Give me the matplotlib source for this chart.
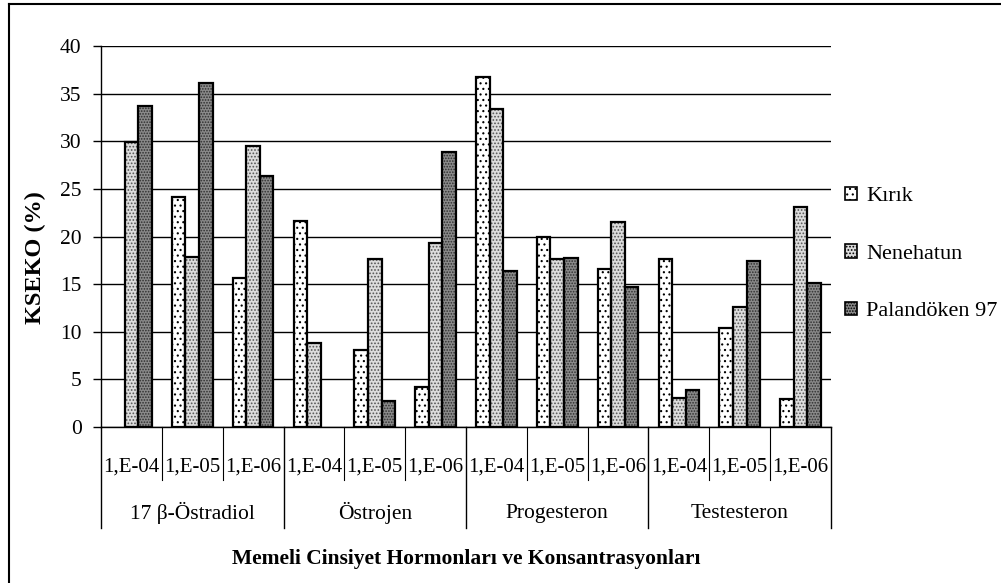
import matplotlib.pyplot as plt
import numpy as np
from matplotlib.lines import Line2D
from matplotlib.patches import Patch

plt.rcParams['font.family'] = ['Liberation Serif', 'DejaVu Serif']
plt.rcParams['hatch.linewidth'] = 0.8

hormones = ['17 β-Östradiol', 'Östrojen', 'Progesteron', 'Testesteron']
doses = ['1,E-04', '1,E-05', '1,E-06']
series = ['Kırık', 'Nenehatun', 'Palandöken 97']

kirik = [np.nan, 24.1, 15.6, 21.6, 8.1, 4.2, 36.7, 19.9, 16.6, 17.6, 10.4, 2.9]
nenehatun = [29.9, 17.9, 29.5, 8.85, 17.6, 19.3, 33.4, 17.6, 21.5, 3.0, 12.6, 23.1]
palandoken = [33.7, 36.1, 26.4, np.nan, 2.7, 28.9, 16.4, 17.7, 14.7, 3.85, 17.4, 15.1]

# face colour, dot colour, hatch pattern for each series
styles = [('white', 'black', '...'),
          ('#dcdcdc', '#555555', '.....'),
          ('#8a8a8a', '#2e2e2e', '......')]

fig = plt.figure(figsize=(10.01, 5.83), dpi=100)
ax = fig.add_axes([101/1001, 156/583, 730/1001, 381/583])

x = np.arange(len(hormones) * len(doses))
w = 1 / 4.5
handles = []
for k, vals in enumerate([kirik, nenehatun, palandoken]):
    face, dot, hatch = styles[k]
    pos = x + (k - 1) * w
    ax.bar(pos, vals, w, color=face, edgecolor=dot, hatch=hatch, linewidth=0, zorder=2)
    ax.bar(pos, vals, w, fill=False, edgecolor='black', linewidth=1.6, zorder=3)
    handles.append(Patch(facecolor=face, edgecolor='black', hatch=hatch, linewidth=1.2))

ax.set_xlim(-0.5, len(x) - 0.5)
ax.set_ylim(0, 40)
ax.set_yticks(range(0, 41, 5))
ax.yaxis.grid(True, color='black', linewidth=1.0)
ax.set_axisbelow(True)
for s in ['top', 'right']:
    ax.spines[s].set_visible(False)
ax.spines['left'].set_linewidth(1.0)
ax.spines['bottom'].set_linewidth(1.0)
ax.tick_params(axis='y', direction='out', length=6, width=1.0, labelsize=15.5, pad=8)
ax.set_xticks([])

# two-level category labels with separators
tr = ax.get_xaxis_transform()
for i in range(len(x) + 1):
    bottom = -0.265 if i % 3 == 0 else -0.139
    lw = 1.0 if i % 3 == 0 else 0.8
    ax.add_line(Line2D([i - 0.5, i - 0.5], [0, bottom], transform=tr,
                       color='black', linewidth=lw, clip_on=False))
for i in x:
    ax.text(i, -0.105, doses[i % 3], transform=tr, ha='center', va='center', fontsize=15)
for g, name in enumerate(hormones):
    ax.text(3 * g + 1, -0.226, name, transform=tr, ha='center', va='center', fontsize=15.5)

fig.text(466/1001, 1 - 559/583, 'Memeli Cinsiyet Hormonları ve Konsantrasyonları',
         ha='center', va='center', fontsize=15.5, fontweight='bold')
fig.text(35/1001, 1 - 258/583, 'KSEKO (%)', rotation=90,
         ha='center', va='center', fontsize=17.5, fontweight='bold')

ax.legend(handles, series, loc='center left', bbox_to_anchor=(845/1001, 1 - 254/583),
          bbox_transform=fig.transFigure, frameon=False, fontsize=16,
          handlelength=0.55, handleheight=0.55, handletextpad=0.4,
          labelspacing=1.7, borderpad=0, borderaxespad=0)

# chart frame: only top and left edges fall inside the canvas
fig.add_artist(Line2D([9/1001, 9/1001], [0, 1 - 4/583], transform=fig.transFigure,
                      color='black', linewidth=1.5))
fig.add_artist(Line2D([9/1001, 1], [1 - 4/583, 1 - 4/583], transform=fig.transFigure,
                      color='black', linewidth=1.5))

fig.savefig('out.png', dpi=100)
